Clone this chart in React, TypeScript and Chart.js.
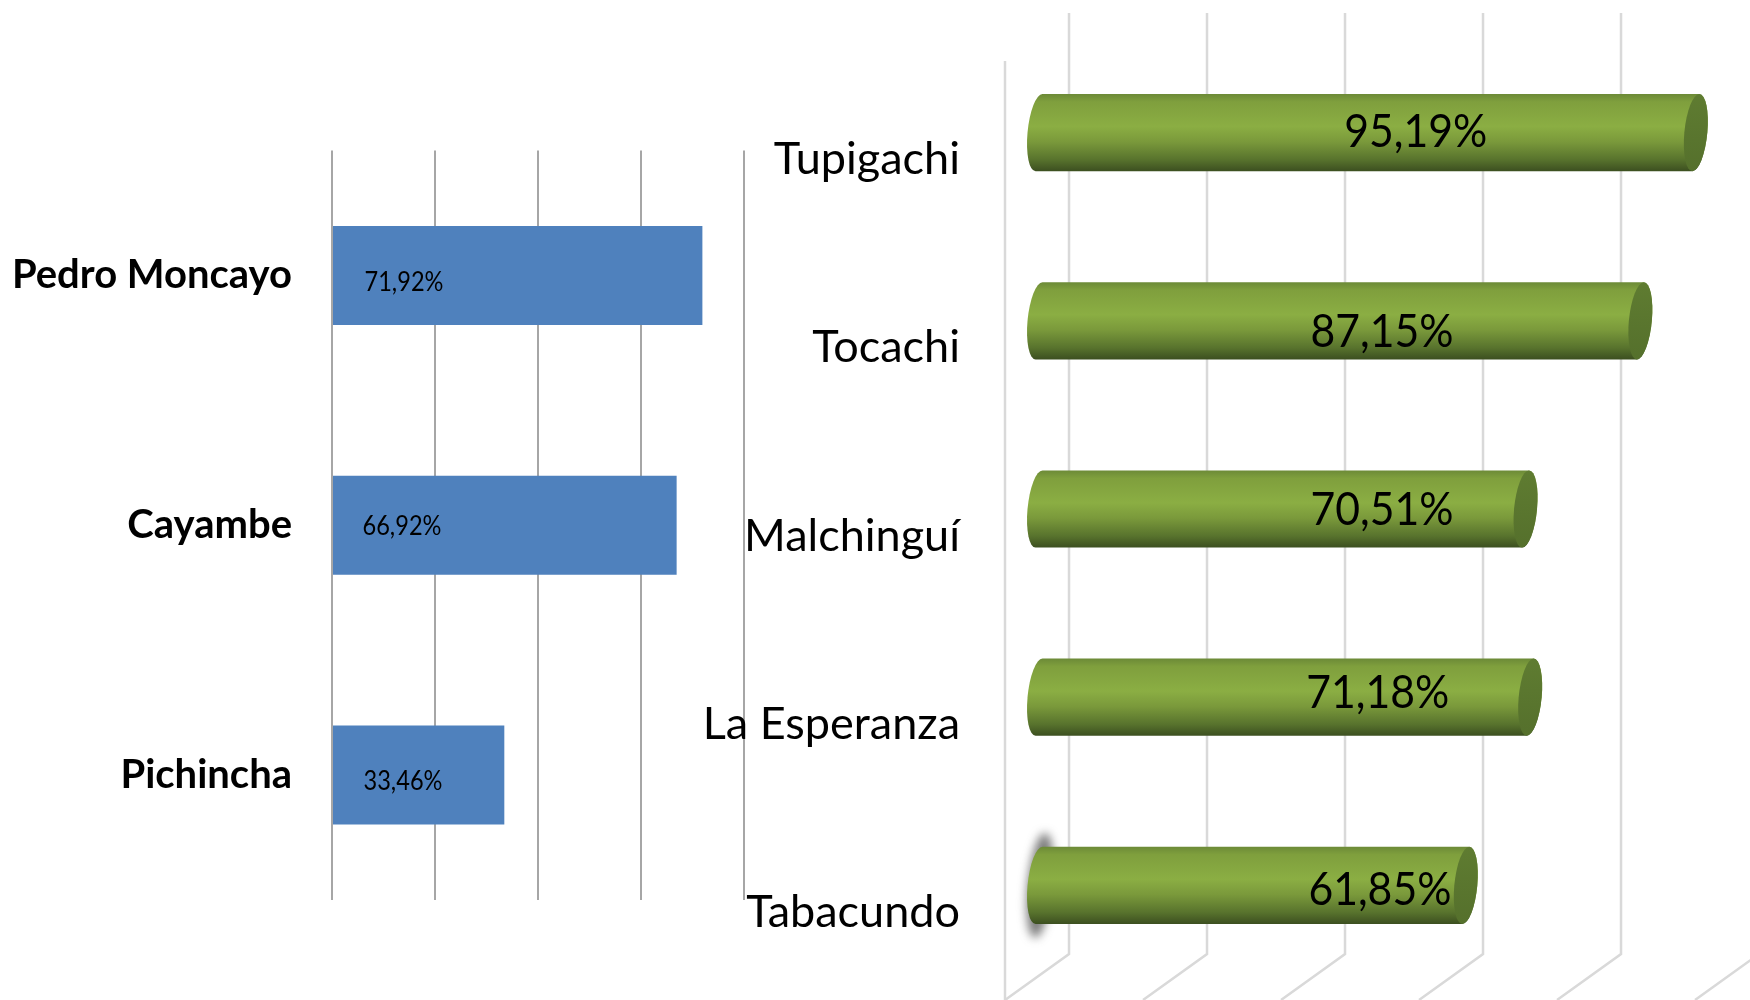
import React, { useEffect, useRef } from "react";
import { Chart, registerables } from "chart.js";

Chart.register(...registerables);

const leftCategories = ["Pedro Moncayo", "Cayambe", "Pichincha"];
const leftValues = [71.92, 66.92, 33.46];
const leftGridStep = 20;

const rightCategories = ["Tupigachi", "Tocachi", "Malchinguí", "La Esperanza", "Tabacundo"];
const rightValues = [95.19, 87.15, 70.51, 71.18, 61.85];
const rightGridValues = [0, 20, 40, 60, 80, 100];
const shadowedCategory = "Tabacundo";

// Hand-placed data label positions, as in the source slide
const leftLabelShift = [[71, 7.5], [69, 1], [70, 7]];
const rightLabelAxisValue = [54.6, 49.7, 49.7, 49.1, 49.4];
const rightLabelShiftY = [-0.5, 11.5, 1.5, -4.5, 5];

const FONT = "Lato, Carlito, Calibri, sans-serif";
const fmt = (v: number) => v.toFixed(2).replace(".", ",") + "%";

const leftLabels = {
  id: "leftLabels",
  afterDatasetsDraw(chart: any) {
    const { ctx } = chart;
    const meta = chart.getDatasetMeta(0);
    ctx.save();
    ctx.font = `26px ${FONT}`;
    ctx.fillStyle = "#000";
    ctx.textAlign = "center";
    ctx.textBaseline = "middle";
    meta.data.forEach((bar: any, i: number) => {
      ctx.fillText(fmt(leftValues[i]), bar.base + leftLabelShift[i][0], bar.y + leftLabelShift[i][1], 79);
    });
    ctx.restore();
  },
};

const SHEAR = -0.09;
const CAP_RX = 11.5;

const cylinders = {
  id: "cylinders",
  beforeDatasetsDraw(chart: any) {
    const { ctx, scales, chartArea } = chart;
    ctx.save();
    ctx.strokeStyle = "#d9d9d9";
    ctx.lineWidth = 2.5;
    const depthX = 30;
    const top = 13;
    const floor = 954;
    rightGridValues.forEach((v) => {
      const x = scales.x.getPixelForValue(v) + depthX;
      ctx.beginPath();
      ctx.moveTo(x, top);
      ctx.lineTo(x, floor);
      ctx.lineTo(x - 64, 1000);
      ctx.stroke();
    });
    ctx.beginPath();
    ctx.moveTo(chartArea.left, 61);
    ctx.lineTo(chartArea.left, 1000);
    ctx.stroke();
    ctx.restore();
  },
  beforeDatasetDraw(chart: any, args: any) {
    const { ctx } = chart;
    const meta = chart.getDatasetMeta(args.index);
    meta.data.forEach((bar: any, i: number) => {
      const cy = bar.y;
      const h = bar.height;
      const ry = h / 2;
      const x0 = bar.base;
      const x1 = bar.x;

      if (rightCategories[i] === shadowedCategory) {
        ctx.save();
        ctx.filter = "blur(5px)";
        ctx.fillStyle = "rgba(80,80,80,0.75)";
        ctx.beginPath();
        ctx.ellipse(x0 + 1, cy, CAP_RX + 1, ry + 14, 0.1, 0, Math.PI * 2);
        ctx.fill();
        ctx.restore();
      }

      ctx.save();
      ctx.transform(1, 0, SHEAR, 1, -SHEAR * cy, 0);
      const g = ctx.createLinearGradient(0, cy - ry, 0, cy + ry);
      g.addColorStop(0, "#6c8a37");
      g.addColorStop(0.1, "#7f9f3d");
      g.addColorStop(0.42, "#8bae43");
      g.addColorStop(0.62, "#7a993b");
      g.addColorStop(0.85, "#58732d");
      g.addColorStop(1, "#3c4f20");
      ctx.fillStyle = g;
      ctx.beginPath();
      ctx.ellipse(x0, cy, CAP_RX, ry, 0, Math.PI / 2, (Math.PI * 3) / 2);
      ctx.lineTo(x1, cy - ry);
      ctx.ellipse(x1, cy, CAP_RX, ry, 0, -Math.PI / 2, Math.PI / 2);
      ctx.closePath();
      ctx.fill();

      const c = ctx.createLinearGradient(0, cy - ry, 0, cy + ry);
      c.addColorStop(0, "#5f7c31");
      c.addColorStop(1, "#55702c");
      ctx.fillStyle = c;
      ctx.beginPath();
      ctx.ellipse(x1, cy, CAP_RX, ry, 0, 0, Math.PI * 2);
      ctx.fill();
      ctx.restore();
    });
    return false;
  },
  afterDatasetsDraw(chart: any) {
    const { ctx, scales } = chart;
    const meta = chart.getDatasetMeta(0);
    ctx.save();
    ctx.font = `46px ${FONT}`;
    ctx.fillStyle = "#000";
    ctx.textAlign = "center";
    ctx.textBaseline = "middle";
    meta.data.forEach((bar: any, i: number) => {
      ctx.fillText(
        fmt(rightValues[i]),
        scales.x.getPixelForValue(rightLabelAxisValue[i]),
        bar.y + rightLabelShiftY[i],
        143
      );
    });
    ctx.restore();
  },
};

const canvasStyle: React.CSSProperties = { position: "absolute", left: 0, top: 0 };

const fixAxis = (width: number) => (s: any) => {
  s.width = width;
  s.paddingTop = 0;
  s.paddingBottom = 0;
};

export default function App() {
  const leftRef = useRef<HTMLCanvasElement>(null);
  const rightRef = useRef<HTMLCanvasElement>(null);

  useEffect(() => {
    const left = new Chart(leftRef.current!, {
      type: "bar",
      data: {
        labels: leftCategories,
        datasets: [{ data: leftValues, backgroundColor: "#4f81bd", barPercentage: 0.396, categoryPercentage: 1 }],
      },
      options: {
        indexAxis: "y",
        responsive: false,
        animation: false,
        layout: { padding: { left: 0, right: 1006, top: 150.5, bottom: 100 } },
        plugins: { legend: { display: false }, tooltip: { enabled: false } },
        scales: {
          x: {
            min: 0,
            max: 80,
            ticks: { stepSize: leftGridStep, display: false },
            grid: { color: "#a6a6a6", lineWidth: 2, drawTicks: false },
            border: { display: false },
          },
          y: {
            afterFit: fixAxis(332),
            grid: { display: false },
            border: { display: false },
            ticks: { color: "#000", padding: 32, font: { family: FONT, size: 40, weight: "bold" } },
          },
        },
      },
      plugins: [leftLabels],
    } as any);

    const right = new Chart(rightRef.current!, {
      type: "bar",
      data: {
        labels: rightCategories,
        datasets: [{ data: rightValues, backgroundColor: "#8bae43", barPercentage: 0.41, categoryPercentage: 1 }],
      },
      options: {
        indexAxis: "y",
        responsive: false,
        animation: false,
        layout: { padding: { left: 0, right: 0, top: 38.5, bottom: 20.5 } },
        plugins: { legend: { display: false }, tooltip: { enabled: false } },
        scales: {
          x: { display: false, min: -4.93, max: 103.04 },
          y: {
            afterFit: fixAxis(1005),
            grid: { display: false },
            border: { display: false },
            ticks: { color: "#000", padding: 37, labelOffset: 27, font: { family: FONT, size: 45 } },
          },
        },
      },
      plugins: [cylinders],
    } as any);

    return () => {
      left.destroy();
      right.destroy();
    };
  }, []);

  return (
    <div style={{ position: "absolute", left: 0, top: 0, width: 1750, height: 1000 }}>
      <canvas ref={leftRef} width={1750} height={1000} style={canvasStyle} />
      <canvas ref={rightRef} width={1750} height={1000} style={canvasStyle} />
    </div>
  );
}
